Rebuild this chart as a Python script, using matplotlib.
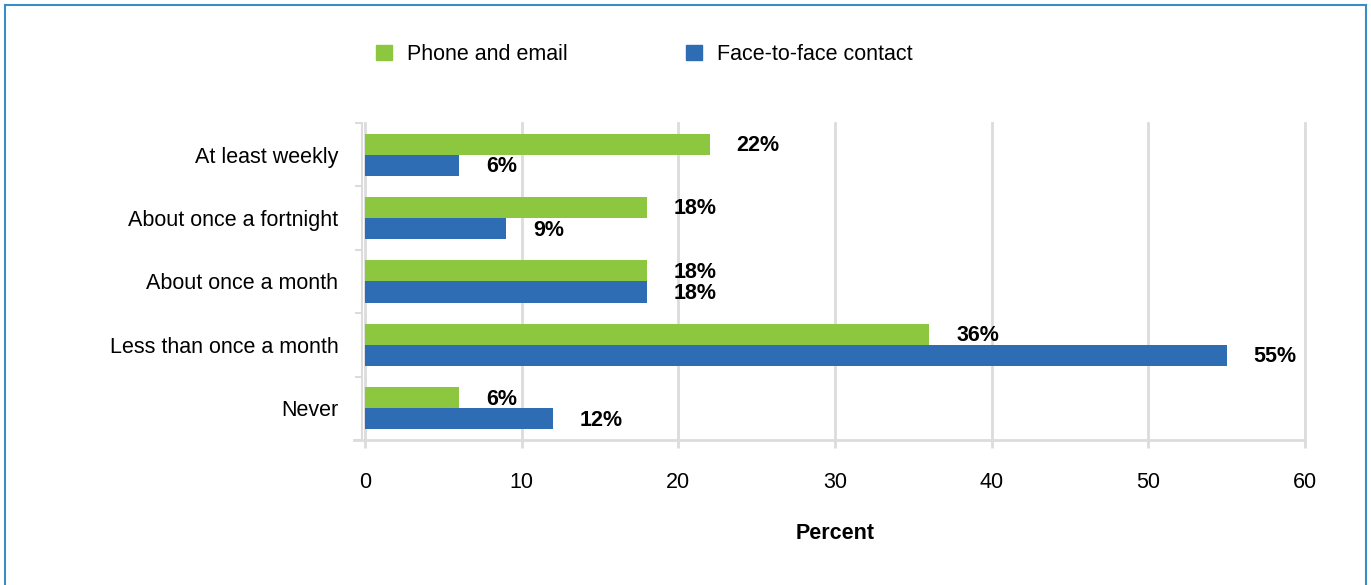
import numpy as np
import matplotlib.pyplot as plt
import matplotlib.patches as mpatches
from matplotlib.lines import Line2D

plt.rcParams['font.family'] = ['Liberation Sans', 'DejaVu Sans']

# data
categories = ['At least weekly', 'About once a fortnight', 'About once a month',
              'Less than once a month', 'Never']
phone_email = [22, 18, 18, 36, 6]
face_to_face = [6, 9, 18, 55, 12]

green = '#8dc63f'
blue = '#2e6db4'
grid_col = '#dcdcdc'
fs = 15.5

fig = plt.figure(figsize=(13.71, 5.85), dpi=100)
ax = fig.add_axes([0.2662, 0.2479, 0.6857, 0.5419])

y = np.arange(len(categories))
h = 0.333
ax.barh(y - h / 2, phone_email, height=h, color=green, zorder=3)
ax.barh(y + h / 2, face_to_face, height=h, color=blue, zorder=3)

for yi, v in zip(y, phone_email):
    ax.annotate(f'{v}%', (v, yi - h / 2), xytext=(19.5, -1), textcoords='offset points',
                va='center', ha='left', fontsize=fs, fontweight='bold')
for yi, v in zip(y, face_to_face):
    ax.annotate(f'{v}%', (v, yi + h / 2), xytext=(19.5, -1), textcoords='offset points',
                va='center', ha='left', fontsize=fs, fontweight='bold')

ax.set_ylim(len(categories) - 0.5, -0.5)
ax.set_xlim(0, 60)
ax.set_xticks(np.arange(0, 61, 10))
ax.set_yticks(y)
ax.set_yticklabels(categories)
ax.set_yticks(np.arange(-0.5, len(categories), 1), minor=True)
ax.tick_params(axis='y', which='major', length=0, pad=17, labelsize=fs)
ax.tick_params(axis='y', which='minor', length=5, width=1.5, color=grid_col)
ax.tick_params(axis='x', length=6, width=2, color=grid_col, pad=17, labelsize=fs)

ax.grid(axis='x', color=grid_col, linewidth=2, zorder=0)
for gl in ax.get_xgridlines():
    gl.set_clip_on(False)
for s in ['top', 'right']:
    ax.spines[s].set_visible(False)
ax.spines['left'].set_color(grid_col)
ax.spines['left'].set_linewidth(1.5)
ax.spines['left'].set_position(('outward', 2.2))
ax.spines['bottom'].set_color(grid_col)
ax.spines['bottom'].set_linewidth(2)
ax.spines['bottom'].set_bounds(-0.7, 60)

ax.set_xlabel('Percent', fontsize=fs, fontweight='bold', labelpad=22)

handles = [mpatches.Patch(color=green, label='Phone and email'),
           mpatches.Patch(color=blue, label='Face-to-face contact')]
fig.legend(handles=handles, loc='center left', bbox_to_anchor=(0.260, 0.907),
           ncol=2, frameon=False, fontsize=fs, handlelength=0.74, handleheight=0.74,
           handletextpad=0.7, columnspacing=5.5)

# outer frame
frame_col = '#3a8cc4'
fig.add_artist(Line2D([0.004, 0.004], [0, 0.992], transform=fig.transFigure, color=frame_col, lw=1.5))
fig.add_artist(Line2D([0.996, 0.996], [0, 0.992], transform=fig.transFigure, color=frame_col, lw=1.5))
fig.add_artist(Line2D([0.004, 0.996], [0.992, 0.992], transform=fig.transFigure, color=frame_col, lw=1.5))

fig.savefig('out.png', dpi=100)
